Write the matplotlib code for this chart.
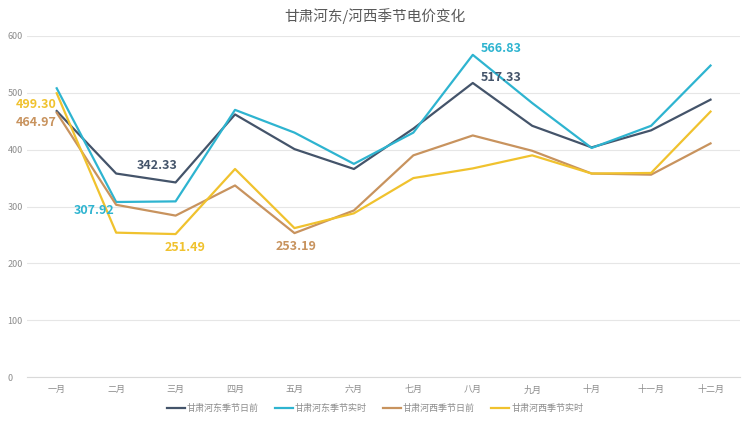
import matplotlib
matplotlib.use("Agg")
import matplotlib.pyplot as plt
import numpy as np

plt.rcParams["font.family"] = ["Noto Sans CJK SC", "DejaVu Sans"]

months = ["一月", "二月", "三月", "四月", "五月", "六月",
          "七月", "八月", "九月", "十月", "十一月", "十二月"]

hedong_dayahead = [468, 358, 342.33, 462, 401, 366, 437, 517.33, 442, 404, 434, 488]
hedong_realtime = [508, 307.92, 309, 470, 430, 375, 430, 566.83, 482, 403, 442, 548]
hexi_dayahead = [464.97, 303, 284, 337, 253.19, 293, 390, 425, 398, 358, 356, 411]
hexi_realtime = [499.30, 254, 251.49, 366, 262, 288, 350, 367, 390, 358, 359, 467]

series_names = ["甘肃河东季节日前", "甘肃河东季节实时", "甘肃河西季节日前", "甘肃河西季节实时"]
colors = ["#44546A", "#2EB4D0", "#C8935E", "#F0C22E"]

# (series index, month index, dx px, dy px, ha)
labels = [
    (3, 0, 0, -11, "right"),
    (2, 0, 0, -10, "right"),
    (0, 2, 2, 17, "right"),
    (1, 1, -2, -9, "right"),
    (3, 2, 9, -13, "center"),
    (2, 4, 2, -13, "center"),
    (1, 7, 8, 6, "left"),
    (0, 7, 8, 5, "left"),
]

fig = plt.figure(figsize=(7.5, 4.21), dpi=100)
ax = fig.add_axes([0.036, 0.1045, 0.951, 0.81])

x = np.arange(len(months))
data = [hedong_dayahead, hedong_realtime, hexi_dayahead, hexi_realtime]
for vals, name, c in zip(data, series_names, colors):
    ax.plot(x, vals, color=c, lw=1.6, label=name)

for si, mi, dx, dy, ha in labels:
    v = data[si][mi]
    ax.annotate(f"{v:.2f}", (x[mi], v), xytext=(dx, dy), textcoords="offset pixels",
                ha=ha, va="center", color=colors[si], fontsize=9, fontweight="bold")

ax.set_xlim(-0.5, 11.5)
ax.set_ylim(0, 600)
ax.set_yticks(range(0, 601, 100))
ax.set_xticks(x)
ax.set_xticklabels(months)
ax.tick_params(axis="both", length=0, labelsize=6.5, colors="#8C8C8C")
ax.tick_params(axis="y", pad=14)
ax.tick_params(axis="x", pad=6)
for lbl in ax.get_yticklabels():
    lbl.set_horizontalalignment("left")
ax.grid(axis="y", color="#E6E6E6", lw=0.8)
ax.set_axisbelow(True)
for s in ["top", "right", "left"]:
    ax.spines[s].set_visible(False)
ax.spines["bottom"].set_color("#D9D9D9")

fig.suptitle("甘肃河东/河西季节电价变化", x=0.5, y=0.98, fontsize=10.5, color="#595959")
fig.legend(loc="lower center", bbox_to_anchor=(0.5, 0.0), ncol=4, frameon=False,
           fontsize=6.5, labelcolor="#8C8C8C", handlelength=2.0, handletextpad=0.2,
           columnspacing=1.8)

fig.savefig("out.png")
